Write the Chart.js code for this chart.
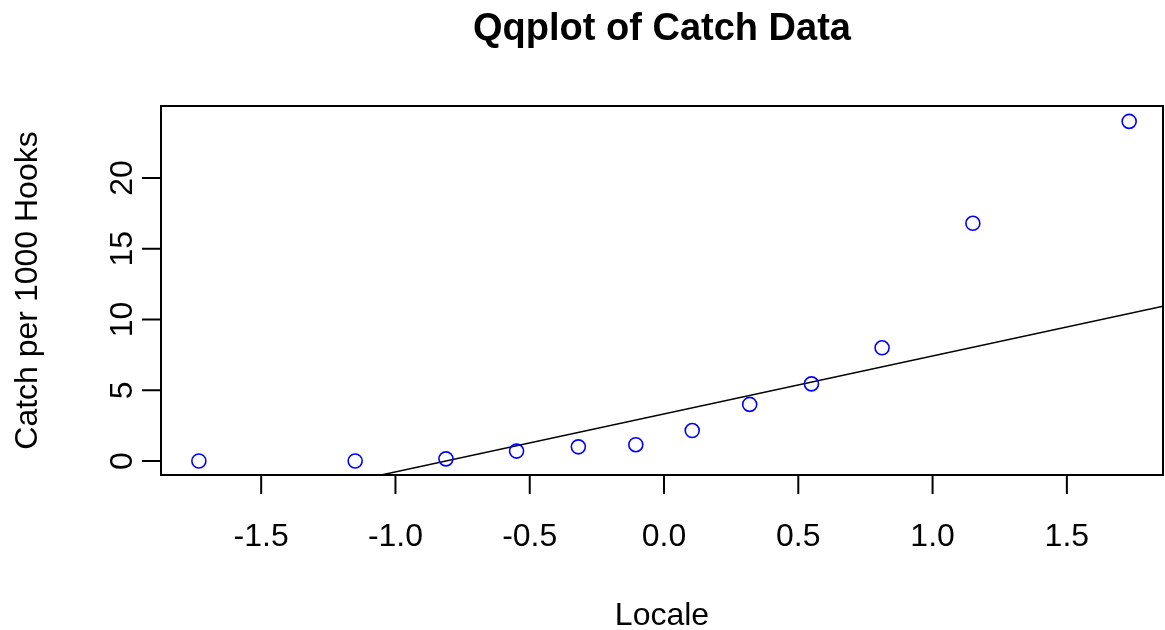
<!DOCTYPE html>
<html>
<head>
<meta charset="utf-8">
<script src="https://cdn.jsdelivr.net/npm/chart.js@4.4.1/dist/chart.umd.min.js"></script>
<style>
  html, body { margin: 0; padding: 0; background: #fff; }
  #wrap { width: 1165px; height: 630px; }
</style>
</head>
<body>
<div id="wrap"><canvas id="qq" width="1165" height="630"></canvas></div>
<script>
// theoretical normal quantiles (n = 12)
var theoQuantiles = [-1.732, -1.150, -0.812, -0.549, -0.319, -0.105, 0.105, 0.319, 0.549, 0.812, 1.150, 1.732];
// sample values, catch per 1000 hooks (sorted)
var catchValues = [0, 0, 0.15, 0.7, 1.0, 1.15, 2.15, 4.0, 5.45, 8.0, 16.8, 24.0];

var xTicks = [-1.5, -1.0, -0.5, 0.0, 0.5, 1.0, 1.5];
var xTickLabels = ['-1.5', '-1.0', '-0.5', '0.0', '0.5', '1.0', '1.5'];
var yTicks = [0, 5, 10, 15, 20];
var yTickLabels = ['0', '5', '10', '15', '20'];

var titleText = 'Qqplot of Catch Data';
var xTitle = 'Locale';
var yTitle = 'Catch per 1000 Hooks';

var xMin = -1.873, xMax = 1.858, yMin = -0.99, yMax = 25.09;

// qqline: line through the first and third quartiles (type 7 quantiles)
function quantile7(arr, p) {
    var s = arr.slice().sort(function(a, b) { return a - b; });
    var h = (s.length - 1) * p;
    var lo = Math.floor(h);
    return s[lo] + (h - lo) * (s[Math.min(lo + 1, s.length - 1)] - s[lo]);
}
var q1 = quantile7(catchValues, 0.25), q3 = quantile7(catchValues, 0.75);
var z = 0.6744898;
var slope = (q3 - q1) / (2 * z);
var intercept = q1 + slope * z;

var pointData = theoQuantiles.map(function(x, i) { return {x: x, y: catchValues[i]}; });
var lineData = [xMin, xMax].map(function(x) { return {x: x, y: intercept + slope * x}; });

var FONT = '"Liberation Sans", Arial, sans-serif';

var rBase = {
    id: 'rBase',
    afterDraw: function(chart) {
        var ctx = chart.ctx, a = chart.chartArea;
        var xs = chart.scales.x, ys = chart.scales.y;
        ctx.save();
        ctx.strokeStyle = '#000';
        ctx.lineWidth = 2;
        ctx.strokeRect(a.left, a.top, a.right - a.left, a.bottom - a.top);

        // x axis ticks + labels
        ctx.fillStyle = '#000';
        ctx.font = '32px ' + FONT;
        ctx.textAlign = 'center';
        ctx.textBaseline = 'alphabetic';
        xTicks.forEach(function(v, i) {
            var px = xs.getPixelForValue(v);
            ctx.beginPath();
            ctx.moveTo(px, a.bottom);
            ctx.lineTo(px, a.bottom + 19);
            ctx.stroke();
            ctx.fillText(xTickLabels[i], px, 546);
        });

        // y axis ticks + labels (rotated)
        yTicks.forEach(function(v, i) {
            var py = ys.getPixelForValue(v);
            ctx.beginPath();
            ctx.moveTo(a.left, py);
            ctx.lineTo(a.left - 19, py);
            ctx.stroke();
            ctx.save();
            ctx.translate(132, py);
            ctx.rotate(-Math.PI / 2);
            ctx.fillText(yTickLabels[i], 0, 0);
            ctx.restore();
        });

        // axis titles
        ctx.fillText(xTitle, (a.left + a.right) / 2, 625);
        ctx.save();
        ctx.translate(37, (a.top + a.bottom) / 2);
        ctx.rotate(-Math.PI / 2);
        ctx.fillText(yTitle, 0, 0);
        ctx.restore();

        // main title
        ctx.font = 'bold 38px ' + FONT;
        ctx.fillText(titleText, (a.left + a.right) / 2, 40);
        ctx.restore();
    }
};

new Chart(document.getElementById('qq'), {
    type: 'scatter',
    data: {
        datasets: [{
            data: pointData,
            showLine: false,
            pointStyle: 'circle',
            pointRadius: 7,
            pointHoverRadius: 7,
            pointBorderWidth: 1.6,
            pointBorderColor: '#0000ff',
            pointBackgroundColor: 'rgba(0,0,0,0)'
        }, {
            type: 'line',
            data: lineData,
            borderColor: '#000',
            borderWidth: 1.5,
            pointRadius: 0,
            fill: false
        }]
    },
    options: {
        responsive: false,
        animation: false,
        devicePixelRatio: 1,
        layout: { autoPadding: false, padding: { left: 161, right: 2, top: 106, bottom: 155 } },
        scales: {
            x: { type: 'linear', min: xMin, max: xMax, display: false },
            y: { type: 'linear', min: yMin, max: yMax, display: false }
        },
        plugins: {
            legend: { display: false },
            tooltip: { enabled: false }
        }
    },
    plugins: [rBase]
});
</script>
</body>
</html>
